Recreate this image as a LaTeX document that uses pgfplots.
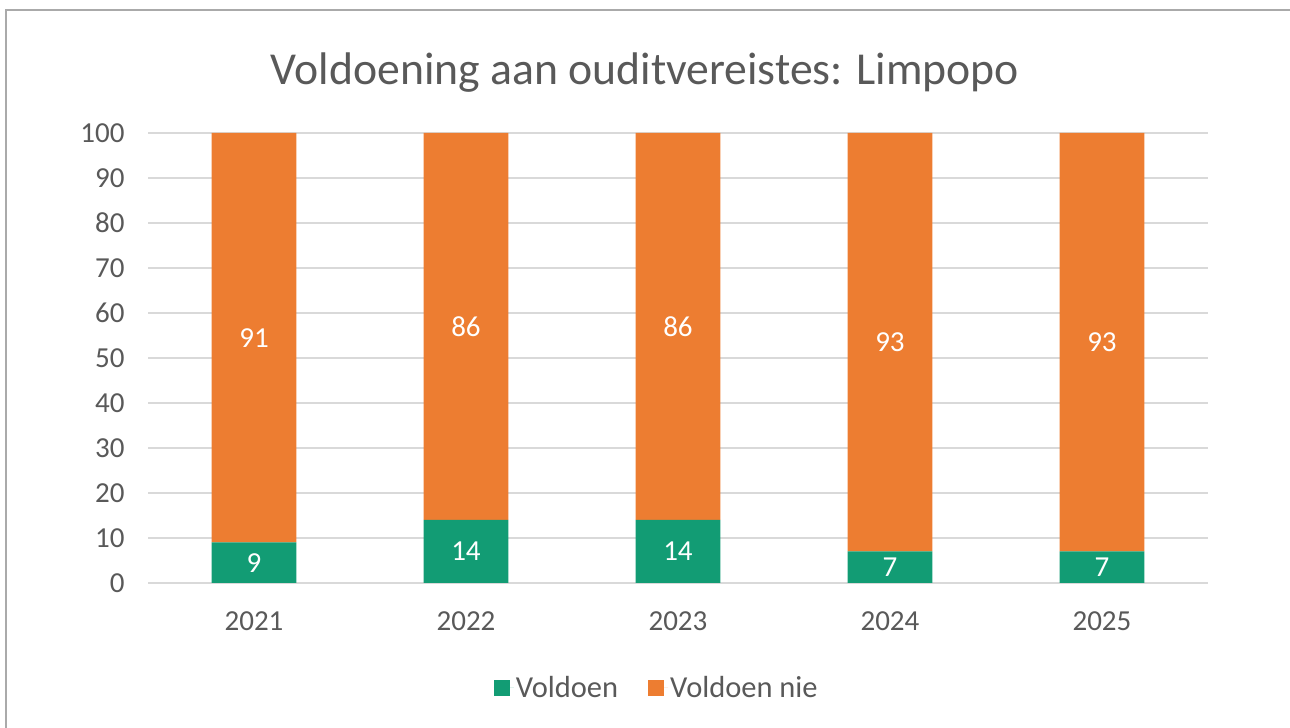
\documentclass[border=0pt]{standalone}
\usepackage{pgfplots}
\pgfplotsset{compat=1.18}
\usepackage{fontspec}
\setmainfont{Carlito}
\definecolor{vgreen}{RGB}{18,156,116}
\definecolor{vorange}{RGB}{237,125,49}
\definecolor{txtgray}{RGB}{89,89,89}
\definecolor{gridgray}{RGB}{217,217,217}
\definecolor{framegray}{RGB}{170,170,170}
\begin{document}
\begin{tikzpicture}[x=1bp,y=1bp]
\useasboundingbox (0,0) rectangle (1290,728);
\draw[framegray, line width=1.5bp] (6,-20) -- (6,718) -- (1310,718);
\node[text=txtgray, font=\fontsize{45.7bp}{50bp}\selectfont] at (645,655) {Voldoening aan ouditvereistes: Limpopo};
\begin{axis}[
  at={(148bp,145bp)}, anchor=south west,
  scale only axis, width=1060bp, height=450bp,
  ybar stacked, bar width=0.4,
  xmin=-0.5, xmax=4.5, ymin=0, ymax=100,
  xtick={0,1,2,3,4}, xticklabels={2021,2022,2023,2024,2025},
  ytick={0,10,...,100},
  axis line style={draw=none}, tick style={draw=none},
  ymajorgrids, grid style={gridgray, line width=1.2bp},
  ticklabel style={text=txtgray, font=\fontsize{29bp}{30bp}\selectfont},
  /pgf/number format/assume math mode=true,
  yticklabel style={xshift=-20bp},
  xticklabel style={yshift=-25bp},
  legend style={at={(0.48,-0.233)}, anchor=center, draw=none, fill=none,
    legend columns=-1, text=txtgray, font=\fontsize{30.5bp}{32bp}\selectfont,
    /tikz/every even column/.append style={column sep=28bp}},
  legend image code/.code={\fill[#1] (0bp,-8bp) rectangle (16bp,8bp); \path (0bp,0bp) -- (20bp,0bp);},
  nodes near coords,
  every node near coord/.append style={anchor=center, text=white,
    font=\fontsize{29bp}{30bp}\selectfont},
]
\addplot[fill=vgreen, draw=none] coordinates {(0,9) (1,14) (2,14) (3,7) (4,7)};
\addplot[fill=vorange, draw=none] coordinates {(0,91) (1,86) (2,86) (3,93) (4,93)};
\legend{Voldoen, Voldoen nie}
\end{axis}
\end{tikzpicture}
\end{document}
